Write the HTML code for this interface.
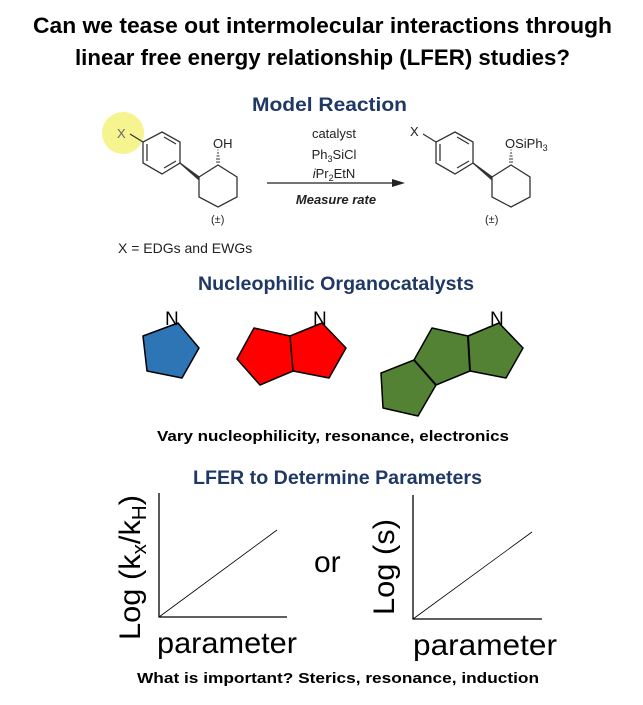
<!DOCTYPE html>
<html><head><meta charset="utf-8"><style>
html,body{margin:0;padding:0;background:#fff;width:643px;height:705px;overflow:hidden}
svg{display:block}
</style></head><body>
<svg width="643" height="705" viewBox="0 0 643 705" xmlns="http://www.w3.org/2000/svg" font-family="Liberation Sans, sans-serif">
<g font-weight="bold">
<text x="33" y="33" font-size="22" textLength="579" lengthAdjust="spacingAndGlyphs">Can we tease out intermolecular interactions through</text>
<text x="75" y="65" font-size="22" textLength="495" lengthAdjust="spacingAndGlyphs">linear free energy relationship (LFER) studies?</text>
<text x="252" y="111" font-size="19" fill="#1f3864" textLength="155" lengthAdjust="spacingAndGlyphs">Model Reaction</text>
<text x="198" y="290" font-size="19" fill="#1f3864" textLength="276" lengthAdjust="spacingAndGlyphs">Nucleophilic Organocatalysts</text>
<text x="157" y="441" font-size="15" textLength="352" lengthAdjust="spacingAndGlyphs">Vary nucleophilicity, resonance, electronics</text>
<text x="193" y="484" font-size="19" fill="#1f3864" textLength="289" lengthAdjust="spacingAndGlyphs">LFER to Determine Parameters</text>
<text x="137" y="683" font-size="15" textLength="402" lengthAdjust="spacingAndGlyphs">What is important? Sterics, resonance, induction</text>
</g>
<circle cx="123" cy="133" r="21" fill="#f3f06a" opacity="0.75"/>
<g id="mol" stroke="#333" stroke-width="1.3" fill="none">
<line x1="130" y1="134" x2="143" y2="142"/>
<polygon points="162,132 180,142 180,163 162,174 143,163 143,142"/>
<line x1="164" y1="137" x2="176" y2="144"/>
<line x1="176" y1="161" x2="164" y2="168"/>
<line x1="147" y1="161" x2="147" y2="144"/>
<polygon points="180,163 199,177 198,179" fill="#333"/>
<polygon points="199,177 218,165 237,177 237,197 218,207 199,197"/>
</g>
<g stroke="#333" stroke-width="1">
<line x1="216" y1="162" x2="220" y2="162"/><line x1="216" y1="159" x2="220" y2="159"/><line x1="216.5" y1="156" x2="219.5" y2="156"/><line x1="217" y1="153" x2="219" y2="153"/><line x1="217.5" y1="150" x2="218.5" y2="150"/>
</g>
<text x="117" y="138" font-size="13" fill="#666">X</text>
<text x="213" y="148" font-size="13" fill="#222">OH</text>
<text x="211" y="223" font-size="11" fill="#222">(±)</text>
<use href="#mol" x="293" y="0"/>
<g stroke="#333" stroke-width="1">
<line x1="509" y1="162" x2="513" y2="162"/><line x1="509" y1="159" x2="513" y2="159"/><line x1="509.5" y1="156" x2="512.5" y2="156"/><line x1="510" y1="153" x2="512" y2="153"/><line x1="510.5" y1="150" x2="511.5" y2="150"/>
</g>
<text x="410" y="136" font-size="13" fill="#222">X</text>
<text x="505" y="148" font-size="13" fill="#222">OSiPh<tspan font-size="9" dy="3">3</tspan></text>
<text x="485" y="223" font-size="11" fill="#222">(±)</text>
<line x1="267" y1="183" x2="395" y2="183" stroke="#222" stroke-width="1.2"/>
<polygon points="405,183 392,179 392,187" fill="#222"/>
<g font-size="13" fill="#222" text-anchor="middle">
<text x="334" y="138">catalyst</text>
<text x="334" y="159">Ph<tspan font-size="9" dy="3">3</tspan><tspan dy="-3">SiCl</tspan></text>
<text x="334" y="178"><tspan font-style="italic">i</tspan>Pr<tspan font-size="9" dy="3">2</tspan><tspan dy="-3">EtN</tspan></text>
<text x="336" y="204" font-weight="bold" font-style="italic">Measure rate</text>
</g>
<text x="118" y="253" font-size="14" fill="#222">X = EDGs and EWGs</text>
<g stroke="#000" stroke-width="1.5" stroke-linejoin="round">
<polygon points="143,336 178,323 199,348 182,378 147,371" fill="#2e75b6"/>
<polygon points="254,328 290,336 322,323 346,348 329,378 293,371 260,385 237,359" fill="#ff0000"/>
<line x1="290" y1="336" x2="293" y2="371"/>
<polygon points="432,328 468,336 499,323 523,348 506,378 470,371 436,385 418,416 383,408 381,373 414,360" fill="#548235"/>
<line x1="468" y1="336" x2="470" y2="371" stroke-width="2"/>
<line x1="414" y1="360" x2="436" y2="385" stroke-width="2"/>
</g>
<g font-size="19" fill="#000">
<text x="165" y="325">N</text>
<text x="313" y="325">N</text>
<text x="490" y="325">N</text>
</g>
<g stroke="#000" stroke-width="1.3" fill="none">
<polyline points="159,493 159,617 287,617"/>
<polyline points="413,495 413,619 542,619"/>
</g>
<g stroke="#000" stroke-width="0.8">
<line x1="159" y1="617" x2="277" y2="530"/>
<line x1="413" y1="619" x2="532" y2="532"/>
</g>
<g font-size="30" fill="#000">
<text x="157" y="653" textLength="140" lengthAdjust="spacingAndGlyphs">parameter</text>
<text x="413" y="655" textLength="144" lengthAdjust="spacingAndGlyphs">parameter</text>
<text x="314" y="572">or</text>
<text transform="translate(140,640) rotate(-90)" textLength="145" lengthAdjust="spacingAndGlyphs">Log (k<tspan font-size="20" dy="6">x</tspan><tspan dy="-6">/k</tspan><tspan font-size="20" dy="6">H</tspan><tspan dy="-6">)</tspan></text>
<text transform="translate(394,615) rotate(-90)" textLength="96" lengthAdjust="spacingAndGlyphs">Log (s)</text>
</g>
</svg>
</body></html>
